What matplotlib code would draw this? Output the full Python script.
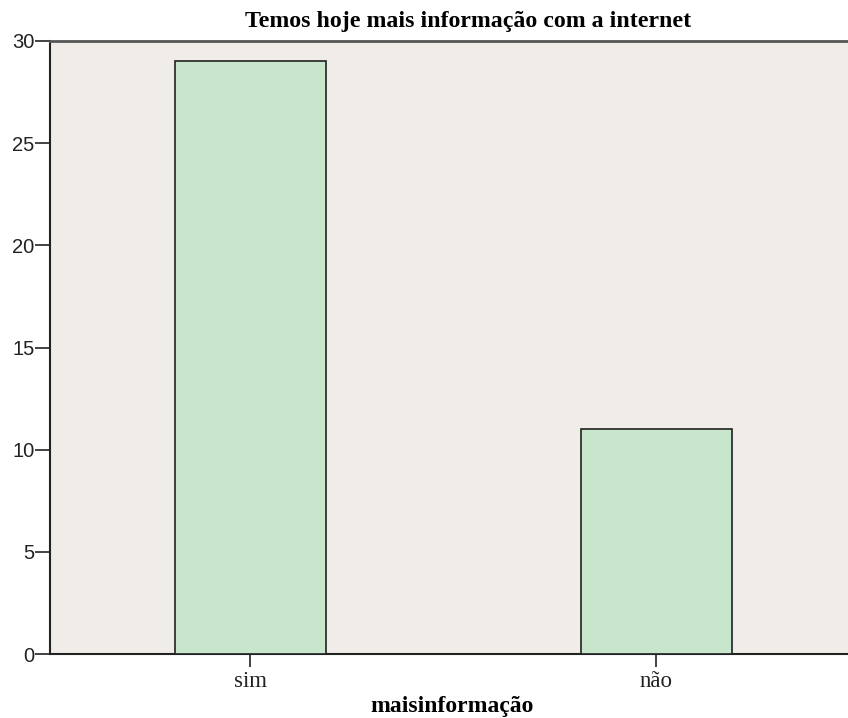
import matplotlib
matplotlib.use("Agg")
import matplotlib.pyplot as plt

categories = ["sim", "não"]
counts = [29, 11]
yticks = [0, 5, 10, 15, 20, 25, 30]

fig = plt.figure(figsize=(8.48, 7.18), dpi=100)
ax = fig.add_axes([50/848, 64/718, 1 - 50/848, (654-41)/718])
ax.set_facecolor("#F0ECE8")

x = list(range(len(categories)))
ax.bar(x, counts, width=0.372, color="#C8E6CC", edgecolor="#222222", linewidth=1.2, zorder=3)

ax.set_xlim(-0.493, 1.473)
ax.set_ylim(0, 30)
ax.set_yticks(yticks)
ax.set_yticklabels([str(v) for v in yticks], family="Liberation Sans", fontsize=14.5)
ax.set_xticks(x)
ax.set_xticklabels(categories, family="Liberation Serif", fontsize=16.5)

ax.tick_params(axis="y", direction="out", length=11, width=1.2, colors="#222222", pad=0)
ax.tick_params(axis="x", direction="out", length=9.5, width=1.2, colors="#222222", pad=3)

for s in ["left", "bottom"]:
    ax.spines[s].set_linewidth(1.5)
    ax.spines[s].set_color("#222222")
ax.spines["top"].set_linewidth(2)
ax.spines["top"].set_color("#555555")
ax.spines["right"].set_visible(False)

ax.set_title("Temos hoje mais informação com a internet", family="Liberation Serif",
             fontweight="bold", fontsize=17.2, pad=10, x=(468-50)/798)
ax.set_xlabel("maisinformação", family="Liberation Serif", fontweight="bold", fontsize=17, labelpad=2.5,
              x=(452-50)/798)

fig.savefig("out.png", dpi=100)
